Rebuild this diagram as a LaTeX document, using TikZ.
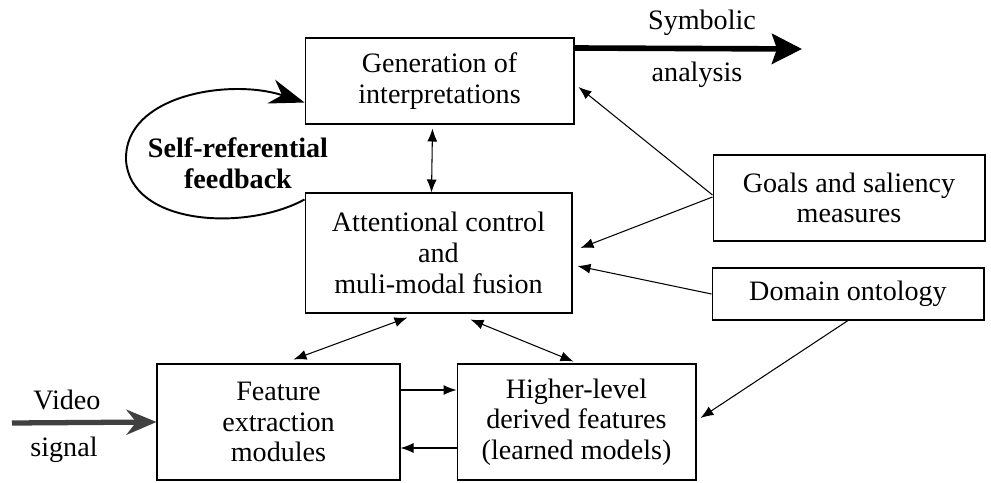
\documentclass[tikz,border=0pt]{standalone}
\usepackage{fontspec}
\setmainfont{Liberation Serif}
\usetikzlibrary{arrows.meta}

\begin{document}
\begin{tikzpicture}[x=0.02cm,y=-0.02cm,
  blk/.style={draw,line width=0.6pt,inner sep=0pt,align=center,font=\fontsize{16}{17.5}\selectfont},
  lbl/.style={inner sep=0pt,align=center,font=\fontsize{16}{17.5}\selectfont},
  arr/.style={line width=0.6pt,-{Latex[length=2.6mm,width=2mm]}},
  dbl/.style={line width=0.6pt,{Latex[length=2.6mm,width=2mm]}-{Latex[length=2.6mm,width=2mm]}},
  bigarr/.style={line width=3.2pt,-{Stealth[length=6mm,width=6mm,inset=1mm]}},
  vidarr/.style={draw=black!75,line width=3pt,-{Stealth[length=6mm,width=5mm,fill=black!40]}},
  fb/.style={line width=1.1pt,-{Stealth[length=7mm,width=5mm]}}]
\useasboundingbox (0,0) rectangle (991,483);
\node[blk,minimum width=5.38cm,minimum height=1.72cm] (gen) at (439.5,81) {Generation of\\interpretations};
\node[blk,minimum width=5.34cm,minimum height=2.4cm] (att) at (438.5,253) {Attentional control\\and\\muli-modal fusion};
\node[blk,minimum width=5.44cm,minimum height=1.72cm] (goals) at (849,198) {Goals and saliency\\measures};
\node[blk,minimum width=5.44cm,minimum height=1.04cm] (onto) at (848,294) {Domain ontology};
\node[blk,minimum width=4.86cm,minimum height=2.32cm] (feat) at (278.5,422) {Feature\\extraction\\modules};
\node[blk,minimum width=4.78cm,minimum height=2.32cm] (high) at (576.5,422) {Higher-level\\derived features\\(learned models)};
\node[lbl] (symtop) at (702,23) {Symbolic};
\node[lbl] (symbot) at (697,75) {analysis};
\node[lbl] (vidtop) at (67,400) {Video};
\node[lbl] (vidbot) at (64,450) {signal};
\node[lbl,font=\bfseries\fontsize{16}{17.5}\selectfont] (self) at (238,163) {Self-referential\\feedback};
\coordinate (symend) at (802,49);
\coordinate (vidstart) at (12,423);
\draw[bigarr] ([shift={(0,-33)}]gen.east) -- (symend);
\draw[vidarr] (vidstart) -- (feat.west);
\draw[fb] ([shift={(0,7)}]att.north west) .. controls (245,232) and (130,225) .. (126,160) .. controls (124,95) and (230,78) .. ([shift={(0,-22)}]gen.south west);
\draw[dbl] ([shift={(-7,4)}]gen.south) -- ([shift={(-7,0)}]att.north);
\draw[arr] ([shift={(0,-3)}]goals.west) -- ([shift={(4,6)}]gen.east);
\draw[arr] ([shift={(0,-1)}]goals.west) -- ([shift={(8,-5)}]att.east);
\draw[arr] (onto.west) -- ([shift={(5,13)}]att.east);
\draw[arr] (onto.south) -- ([shift={(4,-4)}]high.east);
\draw[dbl] ([shift={(-31,4)}]att.south) -- ([shift={(15,-4)}]feat.north);
\draw[dbl] ([shift={(32,6)}]att.south) -- ([shift={(-3,-2)}]high.north);
\draw[arr] ([shift={(0,-32)}]feat.east) -- ([shift={(0,-32)}]high.west);
\draw[arr] ([shift={(0,26)}]high.west) -- ([shift={(0,26)}]feat.east);
\end{tikzpicture}
\end{document}
